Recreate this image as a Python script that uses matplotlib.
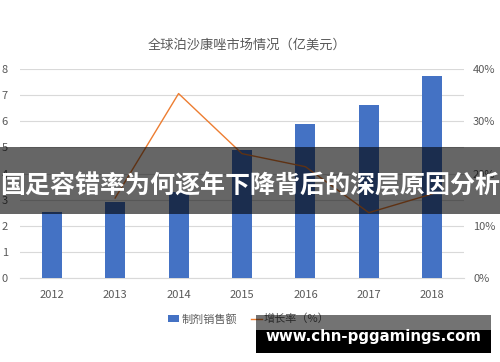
import numpy as np
import matplotlib
matplotlib.use("Agg")
import matplotlib.pyplot as plt
from matplotlib.patches import Rectangle, Patch
from matplotlib.lines import Line2D

plt.rcParams['font.family'] = ['Noto Sans CJK SC', 'DejaVu Sans']

years = ['2012', '2013', '2014', '2015', '2016', '2017', '2018']
sales = [2.53, 2.92, 3.3, 4.9, 5.9, 6.64, 7.73]
growth = [np.nan, 15.3, 35.3, 23.8, 21.3, 12.5, 16.1]
left_ticks = [0, 1, 2, 3, 4, 5, 6, 7, 8]
right_ticks = [0, 10, 20, 30, 40]

title = '全球泊沙康唑市场情况（亿美元）'
legend_labels = ['制剂销售额', '增长率（%）']
banner = '国足容错率为何逐年下降背后的深层原因分析'
watermark = 'www.chn-pggamings.com'

W, H = 500, 362
fig = plt.figure(figsize=(W / 100, H / 100), dpi=100)
ax = fig.add_axes([20 / W, 1 - 278 / H, 444 / W, 209 / H])
ax2 = ax.twinx()

tick_color = '#595959'
blue = '#4472C4'
orange = '#ED7D31'
grid_color = '#D9D9D9'

x = np.arange(len(years))
ax.bar(x, sales, width=0.315, color=blue, zorder=3)
ax.set_xlim(-0.5, len(years) - 0.5)
ax.set_ylim(0, 8)
ax.set_yticks(left_ticks)
ax.set_yticklabels([str(t) for t in left_ticks])
ax.set_xticks(x)
ax.set_xticklabels(years)
ax.grid(axis='y', color=grid_color, linewidth=0.8, zorder=0)
ax.set_axisbelow(True)
for s in ['top', 'right', 'left']:
    ax.spines[s].set_visible(False)
ax.spines['bottom'].set_color(grid_color)
ax.spines['bottom'].set_linewidth(0.8)
ax.tick_params(axis='both', length=0, colors=tick_color, labelsize=8)
ax.tick_params(axis='y', pad=8.6)
ax.tick_params(axis='x', pad=8.6)

ax2.plot(x, growth, color=orange, linewidth=1.0)
ax2.set_ylim(0, 40)
ax2.set_yticks(right_ticks)
ax2.set_yticklabels([f'{t}%' for t in right_ticks])
for s in ['top', 'right', 'left', 'bottom']:
    ax2.spines[s].set_visible(False)
ax2.tick_params(axis='y', length=0, colors=tick_color, labelsize=8, pad=6.5)

fig.text(247 / W, 1 - 45 / H, title, ha='center', va='center', fontsize=9.5, color=tick_color)

handles = [Patch(facecolor=blue, edgecolor='none'),
           Line2D([0], [0], color=orange, linewidth=1.0)]
fig.legend(handles, legend_labels, loc='center', bbox_to_anchor=(249 / W, 1 - 319 / H),
           ncol=2, frameon=False, fontsize=8, labelcolor=tick_color,
           handlelength=1.0, handleheight=0.6, handletextpad=0.2, columnspacing=1.2)

# banner overlay
fig.add_artist(Rectangle((0, 1 - 214 / H), 1, 67 / H, transform=fig.transFigure,
                         facecolor='black', alpha=0.6, edgecolor='none', zorder=10))
fig.text(0.5, 1 - 186 / H, banner, ha='center', va='center', fontsize=18.0,
         fontweight='bold', color='white', zorder=11)

# watermark
fig.add_artist(Rectangle((256 / W, 1 - 330 / H), 235 / W, 15 / H, transform=fig.transFigure,
                         facecolor='black', alpha=0.55, edgecolor='none', zorder=10))
fig.add_artist(Rectangle((256 / W, 1 - 352.5 / H), 235 / W, 22.5 / H, transform=fig.transFigure,
                         facecolor='black', edgecolor='none', zorder=10))
fig.text(373 / W, 1 - 337 / H, watermark, ha='center', va='center', fontsize=10.8,
         fontweight='bold', color='white', family='DejaVu Sans', zorder=11)

fig.savefig('out.png', dpi=100)
